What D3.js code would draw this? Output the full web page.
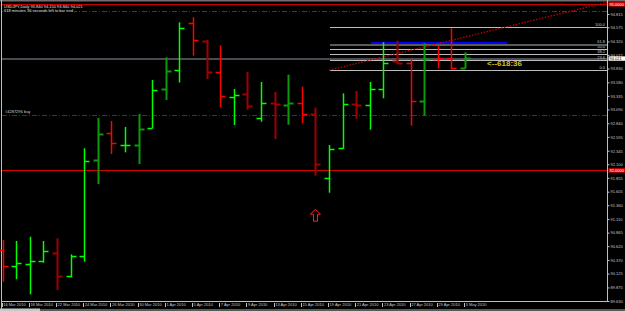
<!DOCTYPE html>
<html>
<head>
<meta charset="utf-8">
<script src="https://cdn.jsdelivr.net/npm/d3@7"></script>
<style>
  body { margin: 0; background: #000; }
  svg { display: block; }
  text { font-family: "Liberation Sans", Arial, sans-serif; }
</style>
</head>
<body>
<div id="chart"></div>
<script>
// ---- data (USDJPY daily bars) ----
const dates = [
  "2010-03-16", "2010-03-17", "2010-03-18", "2010-03-19", "2010-03-22", "2010-03-23",
  "2010-03-24", "2010-03-25", "2010-03-26", "2010-03-29", "2010-03-30", "2010-03-31",
  "2010-04-01", "2010-04-02", "2010-04-05", "2010-04-06", "2010-04-07", "2010-04-08",
  "2010-04-09", "2010-04-12", "2010-04-13", "2010-04-14", "2010-04-15", "2010-04-16",
  "2010-04-19", "2010-04-20", "2010-04-21", "2010-04-22", "2010-04-23", "2010-04-26",
  "2010-04-27", "2010-04-28", "2010-04-29", "2010-04-30", "2010-05-03"
];
const openPrices = [
  90.551, 90.257, 90.293, 90.352, 90.497, 90.076, 90.443, 92.172, 92.660, 92.443,
  92.443, 92.750, 93.455, 93.798, 94.647, 94.333, 93.762, 93.315, 93.364, 92.931,
  93.205, 93.165, 93.202, 93.008, 91.847, 92.399, 93.184, 93.165, 93.465, 93.960,
  93.924, 93.238, 93.997, 94.015, 93.840
];
const highPrices = [
  90.732, 90.714, 90.791, 90.714, 90.763, 90.473, 92.389, 92.936, 92.882, 92.773,
  93.008, 93.623, 94.033, 94.665, 94.755, 94.345, 94.246, 93.460, 93.767, 93.586,
  93.406, 93.718, 93.502, 93.126, 92.448, 93.382, 93.424, 93.586, 94.304, 94.333,
  94.015, 94.286, 94.237, 94.557, 94.123
];
const lowPrices = [
  89.978, 90.022, 89.751, 90.322, 89.828, 90.058, 90.340, 91.744, 92.286, 92.316,
  92.105, 92.750, 93.261, 93.577, 94.062, 93.641, 93.129, 92.810, 93.086, 92.869,
  92.557, 92.815, 92.840, 91.894, 91.586, 92.381, 92.923, 92.725, 93.292, 93.912,
  92.797, 92.978, 93.834, 93.816, 93.834
];
const closePrices = [
  90.257, 90.322, 90.352, 90.528, 90.076, 90.443, 92.154, 92.647, 92.490, 92.450,
  92.743, 93.436, 93.785, 94.557, 94.345, 93.773, 93.334, 93.346, 93.147, 93.212,
  93.190, 93.202, 93.008, 92.100, 92.371, 93.184, 93.171, 93.455, 93.935, 93.930,
  93.243, 93.997, 94.015, 93.834, 94.021
];
// bar colouring class as it shows in the terminal
const barKind = [
  "dn", "up", "up", "up", "dnDark", "up", "up", "upDark", "dn", "up",
  "upDark", "up", "upDark", "up", "dn", "dnDark", "dn", "up", "dnDark", "up",
  "dnDark", "upDark", "dn", "dnDark", "up", "up", "dnDark", "up", "up", "dnDark",
  "dn", "upDark", "dn", "dn", "upDark"
];

const priceTicks = [
  94.815, 94.575, 94.320, 94.077, 93.830, 93.580, 93.335, 93.090, 92.840, 92.595,
  92.345, 92.100, 91.855, 91.605, 91.360, 91.110, 90.865, 90.620, 90.370, 90.125,
  89.875, 89.630
];

const titleText = "USDJPY,Daily  93.840 94.150 93.840 94.021";
const timerText = "618 minutes 36 seconds left to bar end";
const countdownText = "<--618:36";

const topLevel = 95.0;
const bottomLevel = 92.0;
const takeProfit = 94.878;
const buyPrice = 92.985;
const buyLabel = "#4287296 buy";
const lastPrice = 94.021;

const fibLevels = [0, 23.6, 38.2, 50, 61.8, 100];
const fibLow = 93.798;
const fibHigh = 94.575;
const fibStartBar = 24;

const trendFrom = {bar: 24, price: 93.800};
const trendTo = {bar: 36, price: 94.520};
const blueLevel = {fromBar: 27, toBar: 37, price: 94.300};
const arrowMark = {bar: 23, price: 91.180};

// ---- layout ----
const W = 625, H = 311;
const plotRight = 607, plotBottom = 301;

const svg = d3.select("#chart").append("svg")
    .attr("width", W)
    .attr("height", H)
    .style("background", "#000");

const x = d3.scaleLinear().domain([0, 44.4]).range([2.7, 606.5]);
const y = d3.scaleLinear().domain([89.63, 94.815]).range([301, 14]);
const px = v => Math.round(x(v)) + 0.5;
const py = v => Math.round(y(v)) + 0.5;

const colors = {up: "#00ff00", upDark: "#0a9a0a", dn: "#ff0000", dnDark: "#a00000"};
const widths = {up: 1.5, upDark: 2, dn: 1.5, dnDark: 2};

const bars = dates.map((d, i) => ({
  i, date: d, o: openPrices[i], h: highPrices[i], l: lowPrices[i], c: closePrices[i], kind: barKind[i]
}));

// window frame
svg.append("rect").attr("x", 0).attr("y", 0).attr("width", W).attr("height", 1.5).attr("fill", "#707070");
svg.append("rect").attr("x", 0).attr("y", 309).attr("width", W).attr("height", 2).attr("fill", "#5a5a5a");
svg.append("rect").attr("x", 0).attr("y", 308.5).attr("width", 40).attr("height", 2.5).attr("fill", "#c8c8c8");
svg.append("line").attr("x1", 1.5).attr("x2", 1.5).attr("y1", 0).attr("y2", 309)
    .attr("stroke", "#c0c0c0").attr("stroke-width", 1);

const plot = svg.append("g").attr("shape-rendering", "crispEdges");

// current price line (dark grey)
plot.append("line")
    .attr("x1", 2).attr("x2", plotRight)
    .attr("y1", py(lastPrice)).attr("y2", py(lastPrice))
    .attr("stroke", "#4a4a52").attr("stroke-width", 2);

// fibonacci levels
const fibG = plot.append("g");
fibLevels.forEach(lv => {
  const p = fibLow + (fibHigh - fibLow) * lv / 100;
  const strong = lv === 61.8;
  fibG.append("line")
      .attr("x1", px(fibStartBar)).attr("x2", plotRight)
      .attr("y1", py(p)).attr("y2", py(p))
      .attr("stroke", strong ? "#5a5a5a" : "#bdbdbd")
      .attr("stroke-width", strong ? 2 : 1);
  fibG.append("text")
      .attr("x", 605).attr("y", py(p) - 1.5)
      .attr("text-anchor", "end")
      .attr("font-size", 4)
      .attr("fill", "#c8c8c8")
      .text(lv.toFixed(1));
});

// blue level
plot.append("line")
    .attr("x1", px(blueLevel.fromBar)).attr("x2", px(blueLevel.toBar))
    .attr("y1", y(blueLevel.price)).attr("y2", y(blueLevel.price))
    .attr("stroke", "#0000ff").attr("stroke-width", 2);

// horizontal levels
plot.append("line")
    .attr("x1", 2).attr("x2", plotRight)
    .attr("y1", py(topLevel)).attr("y2", py(topLevel))
    .attr("stroke", "#c80000");
plot.append("line")
    .attr("x1", 2).attr("x2", plotRight)
    .attr("y1", py(bottomLevel)).attr("y2", py(bottomLevel))
    .attr("stroke", "#d00000");
plot.append("line")
    .attr("x1", 2).attr("x2", plotRight)
    .attr("y1", py(takeProfit)).attr("y2", py(takeProfit))
    .attr("stroke", "#cc0000").attr("stroke-dasharray", "5,2,1,2");
plot.append("line")
    .attr("x1", 2).attr("x2", plotRight)
    .attr("y1", py(buyPrice)).attr("y2", py(buyPrice))
    .attr("stroke", "#c00000").attr("stroke-dasharray", "5,2,1,2");

// OHLC bars (soft edges so thin bright strokes keep their colour)
const barG = svg.append("g").selectAll(".bar")
    .data(bars)
    .join("g")
    .attr("class", "bar")
    .attr("stroke", d => colors[d.kind])
    .attr("stroke-width", d => widths[d.kind]);

barG.append("line")
    .attr("x1", d => px(d.i)).attr("x2", d => px(d.i))
    .attr("y1", d => y(d.h)).attr("y2", d => y(d.l));
barG.append("line")
    .attr("x1", d => px(d.i) - 5).attr("x2", d => px(d.i))
    .attr("y1", d => py(d.o)).attr("y2", d => py(d.o));
barG.append("line")
    .attr("x1", d => px(d.i)).attr("x2", d => px(d.i) + 5)
    .attr("y1", d => py(d.c)).attr("y2", d => py(d.c));

// dotted trendline, extended to the right edge
const slope = (trendTo.price - trendFrom.price) / (trendTo.bar - trendFrom.bar);
const endBar = x.invert(plotRight);
svg.append("line")
    .attr("x1", x(trendFrom.bar)).attr("y1", y(trendFrom.price))
    .attr("x2", plotRight).attr("y2", y(trendFrom.price + slope * (endBar - trendFrom.bar)))
    .attr("stroke", "#c00000").attr("stroke-width", 1.3)
    .attr("stroke-dasharray", "1.5,1.5");

// arrow marker
const ax = x(arrowMark.bar), ay = y(arrowMark.price);
svg.append("path")
    .attr("d", `M${ax},${ay - 6} L${ax + 5},${ay - 1} L${ax + 2},${ay - 1} L${ax + 2},${ay + 6} L${ax - 2},${ay + 6} L${ax - 2},${ay - 1} L${ax - 5},${ay - 1} Z`)
    .attr("fill", "none").attr("stroke", "#ff2020").attr("stroke-width", 1);

// countdown text
svg.append("text")
    .attr("x", x(34) + 22).attr("y", y(lastPrice) + 8)
    .attr("font-family", "DejaVu Sans Mono, monospace")
    .attr("font-size", 8)
    .attr("font-weight", "bold")
    .attr("fill", "#d4c21a")
    .text(countdownText);

// order label
svg.append("text")
    .attr("x", 5).attr("y", y(buyPrice) - 2)
    .attr("font-size", 4).attr("fill", "#d0d0d0")
    .text(buyLabel);

// title lines
svg.append("rect").attr("x", 3).attr("y", 8).attr("width", 71).attr("height", 5).attr("fill", "#000");
svg.append("text").attr("x", 4).attr("y", 7.5).attr("font-size", 4).attr("fill", "#e0e0e0").text(titleText);
svg.append("text").attr("x", 4).attr("y", 12).attr("font-size", 4).attr("fill", "#e0e0e0").text(timerText);

// ---- axes ----
const axisG = svg.append("g").attr("shape-rendering", "crispEdges");
axisG.append("line").attr("x1", plotRight + 0.5).attr("x2", plotRight + 0.5).attr("y1", 0).attr("y2", plotBottom + 0.5)
    .attr("stroke", "#c0c0c0");
axisG.append("line").attr("x1", 2).attr("x2", plotRight + 0.5).attr("y1", plotBottom + 0.5).attr("y2", plotBottom + 0.5)
    .attr("stroke", "#c0c0c0");

const yAxis = d3.axisRight(y)
    .tickValues(priceTicks)
    .tickFormat(d3.format(".3f"))
    .tickSize(2)
    .tickPadding(1);
const yAxisG = svg.append("g")
    .attr("transform", `translate(${plotRight + 0.5},0)`)
    .call(yAxis);
yAxisG.select(".domain").remove();
yAxisG.selectAll("line").attr("stroke", "#c0c0c0");
yAxisG.selectAll("text").attr("font-size", 4).attr("fill", "#c8c8c8").attr("font-family", null);

// highlighted price labels on the axis
const boxes = [
  {p: topLevel, label: "95.0000", bg: "#e00000", fg: "#ffffff"},
  {p: bottomLevel, label: "92.0000", bg: "#e00000", fg: "#ffffff"},
  {p: lastPrice, label: lastPrice.toFixed(3), bg: "#ffffff", fg: "#000000"}
];
boxes.forEach(b => {
  svg.append("rect")
      .attr("x", plotRight + 1.5).attr("y", y(b.p) - 1.6)
      .attr("width", 16.5).attr("height", 4.4)
      .attr("fill", b.bg);
  svg.append("text")
      .attr("x", plotRight + 2.5).attr("y", y(b.p) + 2)
      .attr("font-size", 4).attr("fill", b.fg)
      .text(b.label);
});

const parseDate = d3.timeParse("%Y-%m-%d");
const fmtDate = d3.timeFormat("%-d %b %Y");
const labelBars = d3.range(0, dates.length, 2);
const xAxis = d3.axisBottom(x)
    .tickValues(labelBars)
    .tickFormat(i => fmtDate(parseDate(dates[i])))
    .tickSize(0);
const xAxisG = svg.append("g")
    .attr("transform", `translate(0,${plotBottom})`)
    .call(xAxis);
xAxisG.select(".domain").remove();
xAxisG.selectAll(".tick line")
    .attr("x1", -1).attr("x2", -1).attr("y1", 2).attr("y2", 6)
    .attr("stroke", "#c0c0c0").attr("shape-rendering", "crispEdges");
xAxisG.selectAll(".tick text")
    .attr("y", 2.5).attr("dy", "0.71em")
    .attr("text-anchor", "start")
    .attr("font-size", 4).attr("fill", "#c8c8c8").attr("font-family", null);
</script>
</body>
</html>
